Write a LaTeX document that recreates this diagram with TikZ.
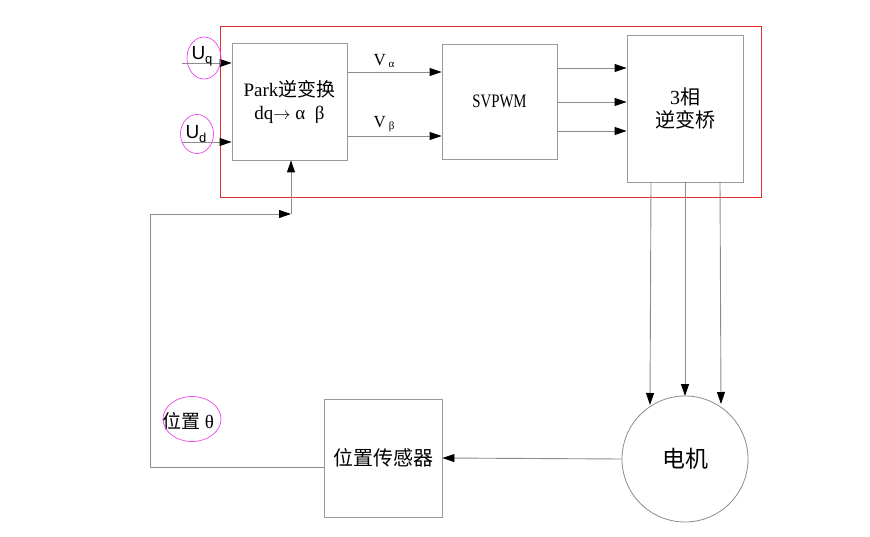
\documentclass[tikz,border=0pt]{standalone}
\usepackage{fontspec}
\setmainfont{Liberation Serif}
\newfontfamily\cjk{Noto Sans CJK SC}
\newfontfamily\arialf{Liberation Sans}
\usetikzlibrary{arrows.meta,shapes.geometric}
\definecolor{linegray}{HTML}{8C8C8C}
\definecolor{boxgray}{HTML}{9A9A9A}
\definecolor{redframe}{HTML}{E03030}
\definecolor{magentaring}{HTML}{EE44EE}
\tikzset{
  blockbox/.style={draw=boxgray, line width=0.9pt, minimum width=#1, inner sep=0pt, align=center, font=\fontsize{20}{25}\selectfont},
  conn/.style={draw=linegray, line width=0.9pt, -{Triangle[length=12pt,width=8pt,fill=black,color=black]}},
  ring/.style={draw=magentaring, line width=0.7pt, ellipse, inner sep=0pt},
  lbl/.style={inner sep=0pt, font=\fontsize{16}{18}\selectfont}
}
\begin{document}
\begin{tikzpicture}[x=1pt,y=-1pt]
\useasboundingbox (0,0) rectangle (870,537);
% red frame
\draw[redframe, line width=0.8pt] (220,26) rectangle (761,197);
% blocks
\node[blockbox=115pt, minimum height=117pt, font=\fontsize{19}{23}\selectfont] (park) at (289.5,101.5) {Park{\cjk 逆变换}\\dq$\rightarrow$ α\ \ β};
\node[blockbox=115pt, minimum height=115pt] (svpwm) at (499.5,101.5) {\scalebox{0.78}[1]{\fontsize{19}{21}\selectfont SVPWM}};
\node[blockbox=116pt, minimum height=147pt] (inv) at (685,108.5) {3{\cjk 相}\\[-2pt]{\cjk 逆变桥}};
\node[blockbox=118pt, minimum height=118pt, font=\fontsize{20}{24}\selectfont\cjk] (sensor) at (383,458) {位置传感器};
\node[draw=linegray, line width=0.8pt, circle, minimum size=126pt, inner sep=0pt, font=\fontsize{23}{26}\selectfont\cjk] (motor) at (685,459) {电机};
% inputs
\coordinate (uqs) at (182,63);
\coordinate (uds) at (182,142);
\draw[conn] (uqs) -- (uqs -| park.west);
\draw[conn] (uds) -- (uds -| park.west);
\node[lbl, font=\arialf\fontsize{19}{21}\selectfont] (uq) at (202,56) {U\raisebox{-4pt}{\fontsize{13}{14}\selectfont q}};
\node[lbl, font=\arialf\fontsize{19}{21}\selectfont] (ud) at (196,134) {U\raisebox{-4pt}{\fontsize{13}{14}\selectfont d}};
\node[ring, minimum width=34pt, minimum height=42pt] (uqring) at (204,58) {};
\node[ring, minimum width=33pt, minimum height=39pt] (udring) at (197,134) {};
% park -> svpwm
\coordinate (vas) at (347,72);
\coordinate (vbs) at (347,136);
\draw[conn] (vas) -- (vas -| svpwm.west);
\draw[conn] (vbs) -- (vbs -| svpwm.west);
\node[lbl, font=\fontsize{17}{19}\selectfont] (va) at (384,61) {V\,\raisebox{-2pt}{\fontsize{11}{12}\selectfont α}};
\node[lbl, font=\fontsize{17}{19}\selectfont] (vb) at (384,124) {V\,\raisebox{-2pt}{\fontsize{11}{12}\selectfont β}};
% svpwm -> inverter
\foreach \yy/\nm in {68/a,102/b,131/c}{
  \coordinate (s\nm) at (557,\yy);
  \draw[conn] (s\nm) -- (s\nm -| inv.west);
}
% inverter -> motor
\coordinate (p1) at (651,182);
\coordinate (p2) at (685,182);
\coordinate (p3) at (720,182);
\coordinate (m1) at (650,405);
\coordinate (m2) at (685,396);
\coordinate (m3) at (721,404);
\draw[conn] (p1) -- (m1);
\draw[conn] (p2) -- (m2);
\draw[conn] (p3) -- (m3);
% motor -> sensor
\draw[conn] (motor.west) -- (sensor.east);
% feedback
\coordinate (fb1) at (150,467);
\coordinate (fb2) at (150,214);
\coordinate (fb3) at (291,214);
\draw[conn] (sensor.west |- fb1) -- (fb1) -- (fb2) -- (fb3);
\draw[conn] (fb3) -- (fb3 |- park.south);
\node[lbl, font=\fontsize{19}{21}\selectfont] (theta) at (188,421) {{\cjk 位置} θ};
\node[ring, minimum width=58pt, minimum height=45pt] (thetaring) at (192,419) {};
\end{tikzpicture}
\end{document}
